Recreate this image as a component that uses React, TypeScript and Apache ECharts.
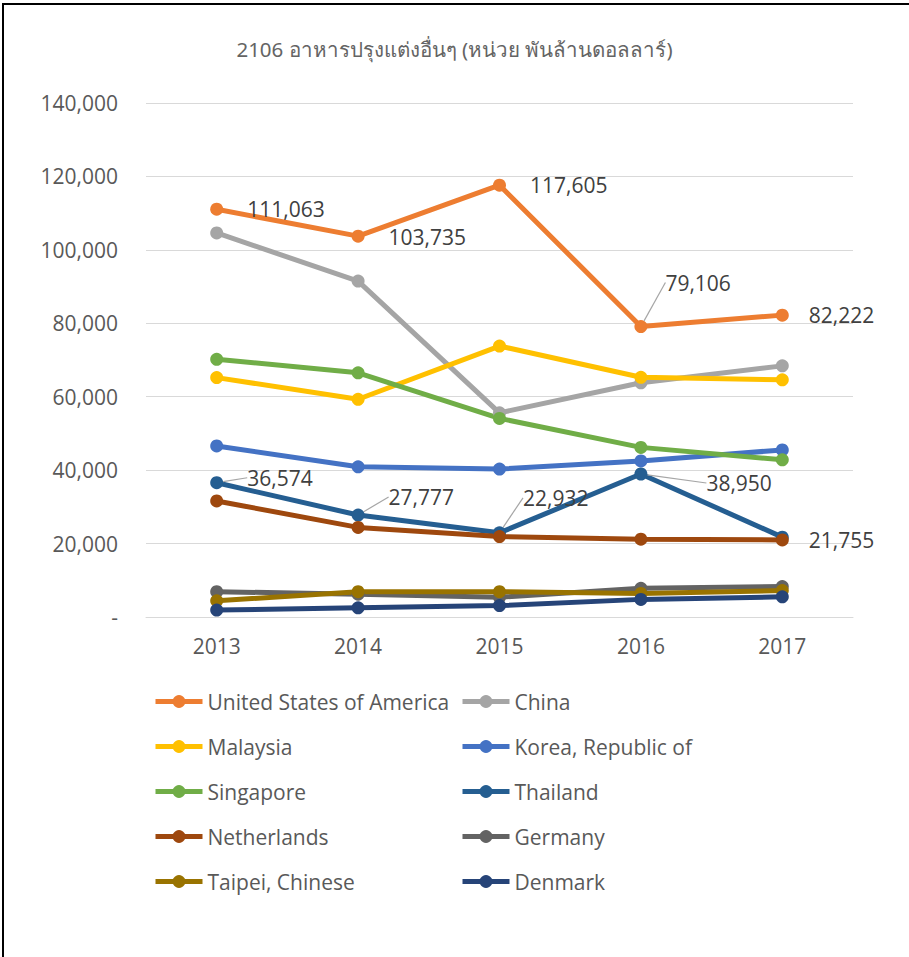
import React, { useEffect, useRef } from "react";
import * as echarts from "echarts";

const titleText = "2106 อาหารปรุงแต่งอื่นๆ (หน่วย พันล้านดอลลาร์)";
const years = ["2013", "2014", "2015", "2016", "2017"];
const yTicks = [0, 20000, 40000, 60000, 80000, 100000, 120000, 140000];

const usa = [111063, 103735, 117605, 79106, 82222];
const china = [104600, 91500, 55600, 63800, 68400];
const malaysia = [65200, 59300, 73800, 65300, 64600];
const korea = [46600, 40900, 40300, 42500, 45500];
const singapore = [70200, 66500, 54100, 46200, 42800];
const thailand = [36574, 27777, 22932, 38950, 21755];
const netherlands = [31600, 24400, 21900, 21200, 21000];
const germany = [6900, 6200, 5400, 7800, 8300];
const taipei = [4400, 6900, 6900, 6400, 7200];
const denmark = [1900, 2500, 3100, 4800, 5500];

const seriesNames = [
  "United States of America",
  "China",
  "Malaysia",
  "Korea, Republic of",
  "Singapore",
  "Thailand",
  "Netherlands",
  "Germany",
  "Taipei, Chinese",
  "Denmark",
];
const seriesValues = [usa, china, malaysia, korea, singapore, thailand, netherlands, germany, taipei, denmark];
const seriesColors = [
  "#ED7D31",
  "#A5A5A5",
  "#FFC000",
  "#4472C4",
  "#70AD47",
  "#255E91",
  "#9E480E",
  "#636363",
  "#997300",
  "#264478",
];
const labelledSeries = ["United States of America", "Thailand"];

// label displacement and leader-line visibility (style only)
const labelShift: Record<string, number[][]> = {
  "United States of America": [[0, 0], [0, 1], [0, 0], [-6, -44], [-4, 0]],
  Thailand: [[0, -5], [0, -18], [-7, -35], [35, 9], [-4, 3]],
};
const leaderShown: Record<string, boolean[]> = {
  "United States of America": [false, false, false, true, false],
  Thailand: [true, true, true, true, false],
};

const fmt = (v: number) => (v === 0 ? "-" : v.toLocaleString("en-US"));

export default function App() {
  const ref = useRef<HTMLDivElement>(null);
  useEffect(() => {
    if (!ref.current) return;
    const chart = echarts.init(ref.current, null, { renderer: "svg" });
    const numFont = "'Open Sans', 'Noto Sans', sans-serif";
    const series = seriesNames.map((name, i) => {
      const hasLabel = labelledSeries.includes(name);
      const shift = labelShift[name];
      const leaders = leaderShown[name];
      return {
        name,
        type: "line",
        data: hasLabel
          ? seriesValues[i].map((v, j) => ({
              value: v,
              labelLine: { show: leaders[j], lineStyle: { color: "#A6A6A6", width: 1.2 } },
            }))
          : seriesValues[i],
        symbol: "circle",
        symbolSize: 13,
        color: seriesColors[i],
        lineStyle: { width: 5, color: seriesColors[i] },
        itemStyle: { color: seriesColors[i] },
        emphasis: { disabled: true },
        label: hasLabel
          ? {
              show: true,
              position: "right",
              distance: 24,
              fontSize: 21,
              fontFamily: numFont,
              color: "#404040",
              formatter: (p: any) => fmt(p.value),
            }
          : { show: false },
        labelLine: hasLabel
          ? { show: false, lineStyle: { color: "#A6A6A6", width: 1.2 } }
          : { show: false },
        labelLayout: hasLabel
          ? (p: any) => ({ dx: shift[p.dataIndex][0], dy: shift[p.dataIndex][1] })
          : undefined,
      };
    });
    const legendText = {
      fontSize: 21,
      fontFamily: numFont,
      color: "#595959",
      lineHeight: 21,
      padding: [0, 0, 0, 0],
    };
    const legendBase = {
      orient: "vertical",
      top: 686,
      itemWidth: 47,
      itemHeight: 16,
      itemGap: 24,
      lineStyle: { width: 5 },
      textStyle: legendText,
    };
    chart.setOption({
      animation: false,
      backgroundColor: "#ffffff",
      title: {
        text: titleText,
        left: "center",
        top: 33,
        textStyle: { fontSize: 20.5, fontWeight: "normal", color: "#646464", fontFamily: "'Noto Sans', sans-serif" },
      },
      grid: { left: 146, right: 56, top: 103, bottom: 340 },
      xAxis: {
        type: "category",
        data: years,
        axisLine: { lineStyle: { color: "#D9D9D9", width: 1 } },
        axisTick: { show: false },
        axisLabel: { fontSize: 21, fontFamily: numFont, color: "#595959", margin: 18 },
      },
      yAxis: {
        type: "value",
        min: yTicks[0],
        max: yTicks[yTicks.length - 1],
        interval: yTicks[1] - yTicks[0],
        axisLine: { show: false },
        axisTick: { show: false },
        splitLine: { lineStyle: { color: "#D9D9D9", width: 1 } },
        axisLabel: { fontSize: 21, fontFamily: numFont, color: "#595959", margin: 28, formatter: fmt },
      },
      legend: [
        { ...legendBase, left: 148, data: seriesNames.filter((_, i) => i % 2 === 0) },
        { ...legendBase, left: 455, data: seriesNames.filter((_, i) => i % 2 === 1) },
      ],
      graphic: [
        { type: "rect", shape: { x: 2, y: 3, width: 907, height: 2 }, style: { fill: "#000" }, silent: true },
        { type: "rect", shape: { x: 2, y: 3, width: 2, height: 954 }, style: { fill: "#000" }, silent: true },
      ],
      series,
    });
    return () => chart.dispose();
  }, []);
  return (
    <div
      ref={ref}
      style={{ position: "fixed", left: 0, top: 0, width: 909, height: 957 }}
    />
  );
}
